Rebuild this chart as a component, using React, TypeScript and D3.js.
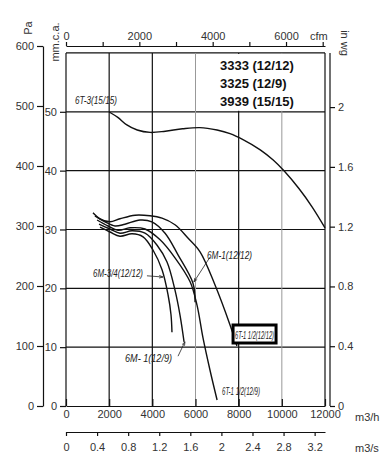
import React, { useEffect, useRef } from "react";
import * as d3 from "d3";

// axis ticks
const flowTicks = [0, 2000, 4000, 6000, 8000, 10000, 12000];
const cfmTicks = [0, 1000, 2000, 3000, 4000, 5000, 6000, 7000];
const cfmLabelled = [0, 2000, 4000, 6000];
const paTicks = [0, 100, 200, 300, 400, 500, 600];
const mmTicks = [0, 10, 20, 30, 40, 50];
const mmGrid = [10, 20, 30, 40, 50, 60];
const inwgTicks = [0, 0.4, 0.8, 1.2, 1.6, 2];
const m3sTicks = [0, 0.4, 0.8, 1.2, 1.6, 2, 2.4, 2.8, 3.2];
const blackGrid = [2000, 4000, 8000];
const greyGrid = [6000, 10000];
const models = ["3333 (12/12)", "3325 (12/9)", "3939 (15/15)"];

// fan curves: [m3/h, Pa]
const fan6T3 = [
  [2000, 490], [2400, 481], [2800, 469], [3300, 460], [3900, 456], [4600, 458],
  [5400, 462], [6200, 464], [7000, 460], [7600, 454], [8200, 444], [9000, 427],
  [9600, 410], [10100, 392], [10800, 362], [11400, 332], [12000, 297]
];
const fan6T1h1212 = [
  [1250, 322], [1575, 312], [2040, 307], [2500, 312], [3200, 318], [3890, 317],
  [4450, 313], [5050, 302], [5650, 280], [6210, 257], [6900, 202], [7600, 135],
  [7920, 100]
];
const fan6M11212 = [
  [1340, 317], [1810, 307], [2270, 300], [2730, 303], [3430, 310], [3980, 307],
  [4590, 288], [5190, 252], [5880, 205], [5980, 173]
];
const fan6T1h129 = [
  [1440, 310], [1950, 300], [2410, 293], [2970, 297], [3660, 295], [4360, 277],
  [5050, 247], [5750, 207], [6070, 168], [6350, 113], [6670, 60], [7000, 10]
];
const fan6M1129 = [
  [1530, 303], [2040, 295], [2500, 288], [3060, 292], [3660, 288], [4220, 268],
  [4680, 240], [5050, 193], [5280, 152], [5470, 107]
];
const fan6M341212 = [
  [1575, 298], [2040, 290], [2500, 283], [3060, 287], [3570, 282], [4030, 260],
  [4450, 227], [4730, 185], [4865, 152], [4910, 123]
];

const PA_PER_MM = 9.80665;
const PA_PER_INWG = 249.089;
const M3H_PER_CFM = 1.699;
const M3H_PER_M3S = 3600;

function App() {
  const ref = useRef<SVGSVGElement>(null);

  useEffect(() => {
    const svg = d3.select(ref.current);
    svg.selectAll("*").remove();

    const x = d3.scaleLinear().domain([0, 12000]).range([66, 325]);
    const y = d3.scaleLinear().domain([0, 600]).range([406, 46]);
    const yMm = d3.scaleLinear().domain([0, 600 / PA_PER_MM]).range([406, 46]);
    const yIn = d3.scaleLinear().domain([0, 600 / PA_PER_INWG]).range([406, 46]);
    const xCfm = d3.scaleLinear().domain([0, 12000 / M3H_PER_CFM]).range([66, 325]);
    const xS = d3.scaleLinear().domain([0, 12000 / M3H_PER_M3S]).range([66, 325]);

    const top = y(60 * PA_PER_MM);
    const font = "'Liberation Sans', Arial, sans-serif";

    svg.append("rect").attr("width", 385).attr("height", 462).attr("fill", "#fff");

    // grid
    const grid = svg.append("g");
    grid.selectAll(".gy")
      .data(mmGrid)
      .enter()
      .append("line")
      .attr("x1", x(0)).attr("x2", x(12000))
      .attr("y1", d => yMm(d)).attr("y2", d => yMm(d))
      .attr("stroke", "#111").attr("stroke-width", 1.2);
    grid.selectAll(".gxg")
      .data(greyGrid)
      .enter()
      .append("line")
      .attr("x1", d => x(d)).attr("x2", d => x(d))
      .attr("y1", top).attr("y2", y(0))
      .attr("stroke", "#999").attr("stroke-width", 1);
    grid.selectAll(".gxb")
      .data(blackGrid)
      .enter()
      .append("line")
      .attr("x1", d => x(d)).attr("x2", d => x(d))
      .attr("y1", top).attr("y2", y(0))
      .attr("stroke", "#111").attr("stroke-width", 1.2);
    grid.append("line")
      .attr("x1", x(0)).attr("x2", x(0)).attr("y1", top).attr("y2", y(0))
      .attr("stroke", "#111").attr("stroke-width", 1.2);
    grid.append("line")
      .attr("x1", x(12000)).attr("x2", x(12000)).attr("y1", top).attr("y2", y(0))
      .attr("stroke", "#111").attr("stroke-width", 1.2);

    // model list
    svg.append("rect")
      .attr("x", x(7300) - 24).attr("y", top + 1)
      .attr("width", x(12000) - x(7300) + 23).attr("height", yMm(50) - top - 2)
      .attr("fill", "#fff");
    svg.selectAll(".model")
      .data(models)
      .enter()
      .append("text")
      .attr("x", x(7135))
      .attr("y", (d, i) => y(560 - i * 30))
      .attr("font-family", font)
      .attr("font-weight", "bold")
      .attr("font-size", 13)
      .attr("fill", "#111")
      .text(d => d);

    const styleAxis = (g, size) => {
      g.selectAll("text").attr("font-family", font).attr("font-size", size).attr("fill", "#333");
      g.selectAll("line").attr("stroke", "#111").attr("stroke-width", 1.2);
      g.select(".domain").attr("stroke", "#111").attr("stroke-width", 1.2);
    };

    // Pa axis
    const paAxis = svg.append("g")
      .attr("transform", "translate(43,0)")
      .call(d3.axisLeft(y).tickValues(paTicks).tickSize(6).tickSizeOuter(0).tickPadding(3));
    styleAxis(paAxis, 11);

    // mm.c.a. axis
    const mmAxis = svg.append("g")
      .attr("transform", "translate(66,0)")
      .call(d3.axisLeft(yMm).tickValues(mmTicks).tickSize(6).tickSizeOuter(0).tickPadding(3));
    mmAxis.select(".domain").remove();
    styleAxis(mmAxis, 11);

    // in wg axis
    const inAxis = svg.append("g")
      .attr("transform", "translate(330,0)")
      .call(d3.axisRight(yIn).tickValues(inwgTicks).tickSize(5).tickSizeOuter(0).tickPadding(3)
        .tickFormat(d => String(d)));
    inAxis.select(".domain").remove();
    inAxis.append("line").attr("x1", 0).attr("x2", 0).attr("y1", top).attr("y2", y(0));
    styleAxis(inAxis, 11);

    // cfm axis
    const cfmAxis = svg.append("g")
      .attr("transform", "translate(0,46)")
      .call(d3.axisTop(xCfm).tickValues(cfmTicks).tickSize(4).tickSizeOuter(0).tickPadding(2)
        .tickFormat(d => (cfmLabelled.includes(+d) ? String(d) : "")));
    styleAxis(cfmAxis, 11);

    // m3/h axis
    const flowAxis = svg.append("g")
      .attr("transform", "translate(0,406)")
      .call(d3.axisBottom(x).tickValues(flowTicks).tickSizeInner(-7).tickSizeOuter(0).tickPadding(4)
        .tickFormat(d => String(d)));
    styleAxis(flowAxis, 11);

    // m3/s axis
    const sAxis = svg.append("g")
      .attr("transform", "translate(0,432)")
      .call(d3.axisBottom(xS).tickValues(m3sTicks).tickSize(4).tickSizeOuter(0).tickPadding(7)
        .tickFormat(d => String(d)));
    styleAxis(sAxis, 11);

    // unit labels
    const unit = (t, tx, ty, rot, anchor) =>
      svg.append("text")
        .attr("transform", `translate(${tx},${ty}) rotate(${rot})`)
        .attr("text-anchor", anchor)
        .attr("font-family", font)
        .attr("font-size", 11)
        .attr("fill", "#333")
        .text(t);
    unit("Pa", 32, 28, -90, "middle");
    unit("mm.c.a.", 59, 42, -90, "middle");
    unit("in wg", 341, 43, 90, "middle");
    unit("cfm", 310, 40, 0, "start");
    unit("m3/h", 355, 421, 0, "start");
    unit("m3/s", 355, 452, 0, "start");

    // curves
    const line = d3.line()
      .x(d => x(d[0]))
      .y(d => y(d[1]))
      .curve(d3.curveCatmullRom.alpha(0.5));
    const curves = [fan6T3, fan6T1h1212, fan6M11212, fan6T1h129, fan6M1129, fan6M341212];
    svg.selectAll(".fan")
      .data(curves)
      .enter()
      .append("path")
      .attr("d", d => line(d))
      .attr("fill", "none")
      .attr("stroke", "#111")
      .attr("stroke-width", 1.4);

    // curve names
    const names = [
      { t: "6T-3(15/15)", q: 417, p: 503, w: 42 },
      { t: "6M-1(12/12)", q: 6533, p: 245, w: 45 },
      { t: "6M-3/4(12/12)", q: 1251, p: 215, w: 50 },
      { t: "6M- 1(12/9)", q: 2734, p: 74, w: 47 },
      { t: "6T-1 1/2(12/12)", q: 7830, p: 112, w: 39 },
      { t: "6T-1 1/2(12/9)", q: 7228, p: 18, w: 38 }
    ];
    svg.append("rect")
      .attr("x", x(7740)).attr("y", y(135))
      .attr("width", 43).attr("height", 18)
      .attr("fill", "#fff").attr("stroke", "#000").attr("stroke-width", 3);
    svg.selectAll(".name")
      .data(names)
      .enter()
      .append("text")
      .attr("x", d => x(d.q))
      .attr("y", d => y(d.p))
      .attr("font-family", font)
      .attr("font-style", "italic")
      .attr("font-size", 10)
      .attr("textLength", d => d.w)
      .attr("lengthAdjust", "spacingAndGlyphs")
      .attr("fill", "#222")
      .text(d => d.t);

    // pointers
    const pointers = [
      [[3750, 217], [4490, 215]],
      [[6670, 248], [5930, 207]],
      [[5190, 83], [5510, 107]]
    ];
    pointers.forEach(([a, b]) => {
      const x1 = x(a[0]), y1 = y(a[1]), x2 = x(b[0]), y2 = y(b[1]);
      const ang = Math.atan2(y2 - y1, x2 - x1);
      svg.append("line")
        .attr("x1", x1).attr("y1", y1).attr("x2", x2).attr("y2", y2)
        .attr("stroke", "#222").attr("stroke-width", 0.8);
      const h = 4;
      svg.append("path")
        .attr("d", `M${x2},${y2}L${x2 - h * Math.cos(ang - 0.35)},${y2 - h * Math.sin(ang - 0.35)}M${x2},${y2}L${x2 - h * Math.cos(ang + 0.35)},${y2 - h * Math.sin(ang + 0.35)}`)
        .attr("fill", "none").attr("stroke", "#222").attr("stroke-width", 0.8);
    });
  }, []);

  return (
    <svg
      ref={ref}
      width={385}
      height={462}
      style={{ position: "absolute", left: 0, top: 0 }}
    />
  );
}

export default App;
